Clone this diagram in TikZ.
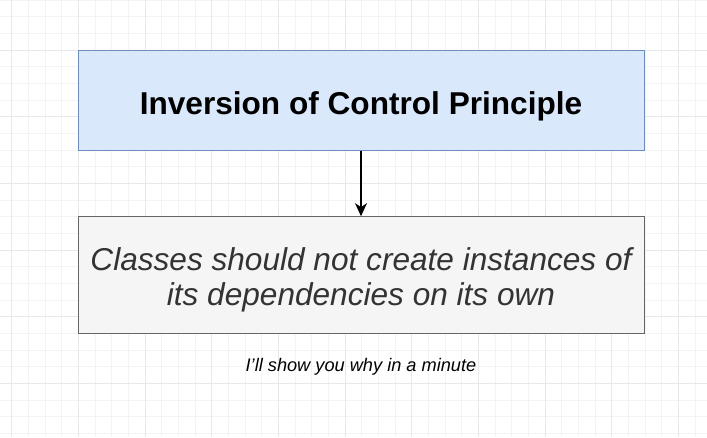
\documentclass[tikz,border=0pt]{standalone}
\usepackage{fontspec}
\setmainfont{Liberation Sans}
\usetikzlibrary{arrows.meta}
\definecolor{iocfill}{HTML}{DAE8FC}
\definecolor{iocdraw}{HTML}{6C8EBF}
\definecolor{rulefill}{HTML}{F5F5F5}
\definecolor{ruledraw}{HTML}{666666}
\definecolor{ruletext}{HTML}{333333}
\definecolor{gridminor}{HTML}{F3F3F3}
\definecolor{gridmajor}{HTML}{E8E8E8}
\begin{document}
\begin{tikzpicture}[x=1pt,y=-1pt]
                    \useasboundingbox (0,0) rectangle (707,437);
                    \fill[white] (0,0) rectangle (707,437);

                    \foreach \i in {0,...,42} {
                        \draw[gridminor, line width=0.8pt] (11.67+16.667*\i,0) -- (11.67+16.667*\i,437);
                    }
                    \foreach \j in {0,...,26} {
                        \draw[gridminor, line width=0.8pt] (0,16.667*\j) -- (707,16.667*\j);
                    }
                    \foreach \i in {0,...,10} {
                        \draw[gridmajor, line width=0.8pt] (11.67+66.667*\i,0) -- (11.67+66.667*\i,437);
                    }
                    \foreach \j in {0,...,6} {
                        \draw[gridmajor, line width=0.8pt] (0,50+66.667*\j) -- (707,50+66.667*\j);
                    }

                    \node[draw=iocdraw, fill=iocfill, line width=1pt, minimum width=566pt, minimum height=100pt, inner sep=0pt,
                          text height=28pt, text depth=0pt,
                          font=\fontsize{31.6}{36}\selectfont\bfseries] (ioc) at (361,100) {Inversion of Control Principle};
                    \node[draw=ruledraw, fill=rulefill, line width=1pt, minimum width=566pt, minimum height=116.7pt, inner sep=0pt,
                          text height=0pt, text depth=10pt,
                          text=ruletext, font=\fontsize{31.6}{35}\selectfont\itshape] (rule) at (361,275)
                          {\begin{tabular}[t]{@{}c@{}}Classes should not create instances of\\its dependencies on its own\end{tabular}};
                    \node[font=\fontsize{18.2}{20}\selectfont\itshape] (note) at (361,367) {I\symbol{39}ll show you why in a minute};

                    \draw[-{Stealth[length=13pt,width=12pt,inset=4pt]}, line width=1.2pt] (ioc.south) -- (rule.north);
                \end{tikzpicture}
\end{document}
